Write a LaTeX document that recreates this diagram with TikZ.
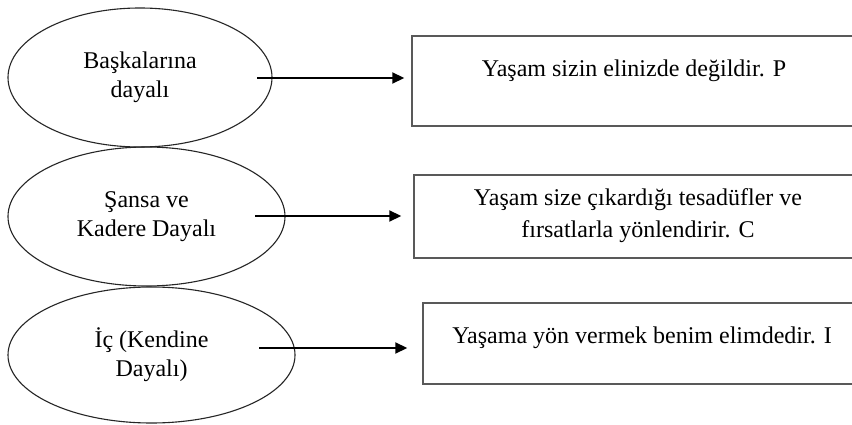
\documentclass[tikz,border=0pt]{standalone}
\usepackage{fontspec}
\setmainfont{Liberation Serif}
\usetikzlibrary{shapes.geometric,arrows.meta}
\begin{document}
\begin{tikzpicture}[x=1pt,y=-1pt,
  oval/.style={ellipse,draw=black!85,line width=1.1pt,inner sep=0pt,align=center,
    font=\fontsize{24}{29}\selectfont},
  panel/.style={rectangle,draw=black!65,line width=1.5pt,inner sep=0pt},
  label/.style={align=center,inner sep=0pt,font=\fontsize{24}{32}\selectfont},
  link/.style={line width=2.2pt,-{Triangle[length=12pt,width=11pt]}}]
\useasboundingbox (0,0) rectangle (852,425);
\fill[white] (0,0) rectangle (852,425);

% locus-of-control categories
\node[oval,minimum width=264pt,minimum height=139pt] (e1) at (140,77.5) {Başkalarına\\dayalı};
\node[oval,minimum width=277pt,minimum height=139pt] (e2) at (146.5,216.5) {Şansa ve\\Kadere Dayalı};
\node[oval,minimum width=287pt,minimum height=136pt] (e3) at (151.5,355) {İç (Kendine\\Dayalı)};

% description boxes (running past the right edge)
\node[panel,minimum width=450pt,minimum height=90pt] (b1) at (637,81) {};
\node[panel,minimum width=448pt,minimum height=83pt] (b2) at (638,216.5) {};
\node[panel,minimum width=439pt,minimum height=81pt] (b3) at (642.5,343.5) {};

\node[label] (t1) at (634,71) {Yaşam sizin elinizde değildir. P};
\node[label] (t2) at (638,216) {Yaşam size çıkardığı tesadüfler ve\\fırsatlarla yönlendirir. C};
\node[label] (t3) at (642,338) {Yaşama yön vermek benim elimdedir. I};

% arrows
\coordinate (s1) at (257,78);
\coordinate (s2) at (255,216);
\coordinate (s3) at (259,348);
\draw[link,shorten >=7pt] (s1) -- (s1 -| b1.west);
\draw[link,shorten >=12pt] (s2) -- (s2 -| b2.west);
\draw[link,shorten >=15pt] (s3) -- (s3 -| b3.west);
\end{tikzpicture}
\end{document}
